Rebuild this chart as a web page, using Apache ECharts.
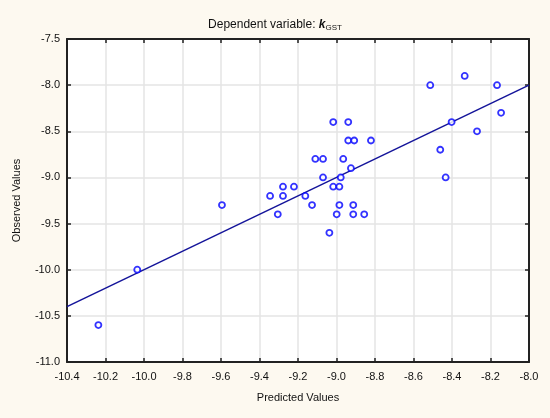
<!DOCTYPE html>
<html>
<head>
    <meta charset="utf-8">
    <title>Dependent variable: kGST</title>
    <script src="https://cdn.jsdelivr.net/npm/echarts@6/dist/echarts.min.js"></script>
    <style>
        html, body { margin: 0; padding: 0; background: #fdf9f0; }
        #chart { width: 550px; height: 418px; }
    </style>
</head>
<body>
    <div id="chart"></div>
    <script>
        // predicted (x) vs observed (y)
        var predicted = [
            -9.017, -8.939,
            -8.939, -8.908, -8.821,
            -9.110, -9.070, -8.965,
            -8.925,
            -9.070, -8.978,
            -9.278, -9.221, -9.017, -8.985,
            -9.345, -9.278, -9.162,
            -9.595, -9.127, -8.985, -8.913,
            -9.305, -8.999, -8.913, -8.856,
            -9.037,
            -8.513, -8.334, -8.166, -8.145, -8.402, -8.270, -8.461, -8.433,
            -10.035, -10.237
        ];
        var observed = [
            -8.4, -8.4,
            -8.6, -8.6, -8.6,
            -8.8, -8.8, -8.8,
            -8.9,
            -9.0, -9.0,
            -9.1, -9.1, -9.1, -9.1,
            -9.2, -9.2, -9.2,
            -9.3, -9.3, -9.3, -9.3,
            -9.4, -9.4, -9.4, -9.4,
            -9.6,
            -8.0, -7.9, -8.0, -8.3, -8.4, -8.5, -8.7, -9.0,
            -10.0, -10.6
        ];
        // fitted line (observed = predicted)
        var fitLine = [[-10.4, -10.4], [-8.0, -8.0]];

        var xMin = -10.4, xMax = -8.0, xStep = 0.2;
        var yMin = -11.0, yMax = -7.5, yStep = 0.5;

        var points = predicted.map(function (x, i) { return [x, observed[i]]; });

        var font = 'Liberation Sans, Arial, sans-serif';
        var tickStyle = { show: true, inside: true, length: 4, lineStyle: { color: '#222', width: 1.5 } };
        var lineStyle = { show: true, onZero: false, lineStyle: { color: '#222', width: 2 } };

        var chart = echarts.init(document.getElementById('chart'));
        chart.setOption({
            backgroundColor: '#fdf9f0',
            animation: false,
            title: {
                text: 'Dependent variable: {k|k}{sub|GST}',
                left: 'center',
                top: 12,
                textStyle: {
                    fontFamily: font, fontSize: 12, fontWeight: 'normal', color: '#111',
                    rich: {
                        k: { fontFamily: font, fontSize: 12, fontWeight: 'bold', fontStyle: 'italic', color: '#111' },
                        sub: { fontFamily: font, fontSize: 8, color: '#111', padding: [7, 0, 0, 0] }
                    }
                }
            },
            grid: { left: 67, right: 21, top: 39, bottom: 56, show: true, backgroundColor: '#fff', borderWidth: 0 },
            xAxis: [{
                type: 'value', min: xMin, max: xMax, interval: xStep,
                name: 'Predicted Values', nameLocation: 'middle', nameGap: 30,
                nameTextStyle: { fontFamily: font, fontSize: 11, color: '#111' },
                axisLine: lineStyle, axisTick: tickStyle,
                axisLabel: { fontFamily: font, fontSize: 11, color: '#111', margin: 9,
                    formatter: function (v) { return v.toFixed(1); } },
                splitLine: { show: true, lineStyle: { color: '#e4e4e4', width: 1.5 } }
            }, {
                type: 'value', position: 'top', min: xMin, max: xMax, interval: xStep,
                axisLine: lineStyle, axisTick: tickStyle, axisLabel: { show: false }, splitLine: { show: false }
            }],
            yAxis: [{
                type: 'value', min: yMin, max: yMax, interval: yStep,
                name: 'Observed Values', nameLocation: 'middle', nameGap: 45,
                nameTextStyle: { fontFamily: font, fontSize: 11, color: '#111' },
                axisLine: lineStyle, axisTick: tickStyle,
                axisLabel: { fontFamily: font, fontSize: 11, color: '#111', margin: 7,
                    formatter: function (v) { return v.toFixed(1); } },
                splitLine: { show: true, lineStyle: { color: '#e4e4e4', width: 1.5 } }
            }, {
                type: 'value', position: 'right', min: yMin, max: yMax, interval: yStep,
                axisLine: lineStyle, axisTick: tickStyle, axisLabel: { show: false }, splitLine: { show: false }
            }],
            series: [{
                type: 'line',
                data: fitLine,
                symbol: 'none',
                lineStyle: { color: '#14149a', width: 1.5 },
                z: 2
            }, {
                type: 'scatter',
                data: points,
                symbol: 'circle',
                symbolSize: 6,
                itemStyle: { color: '#fff', borderColor: '#0000ff', borderWidth: 1.8 },
                z: 3
            }]
        });
    </script>
</body>
</html>
